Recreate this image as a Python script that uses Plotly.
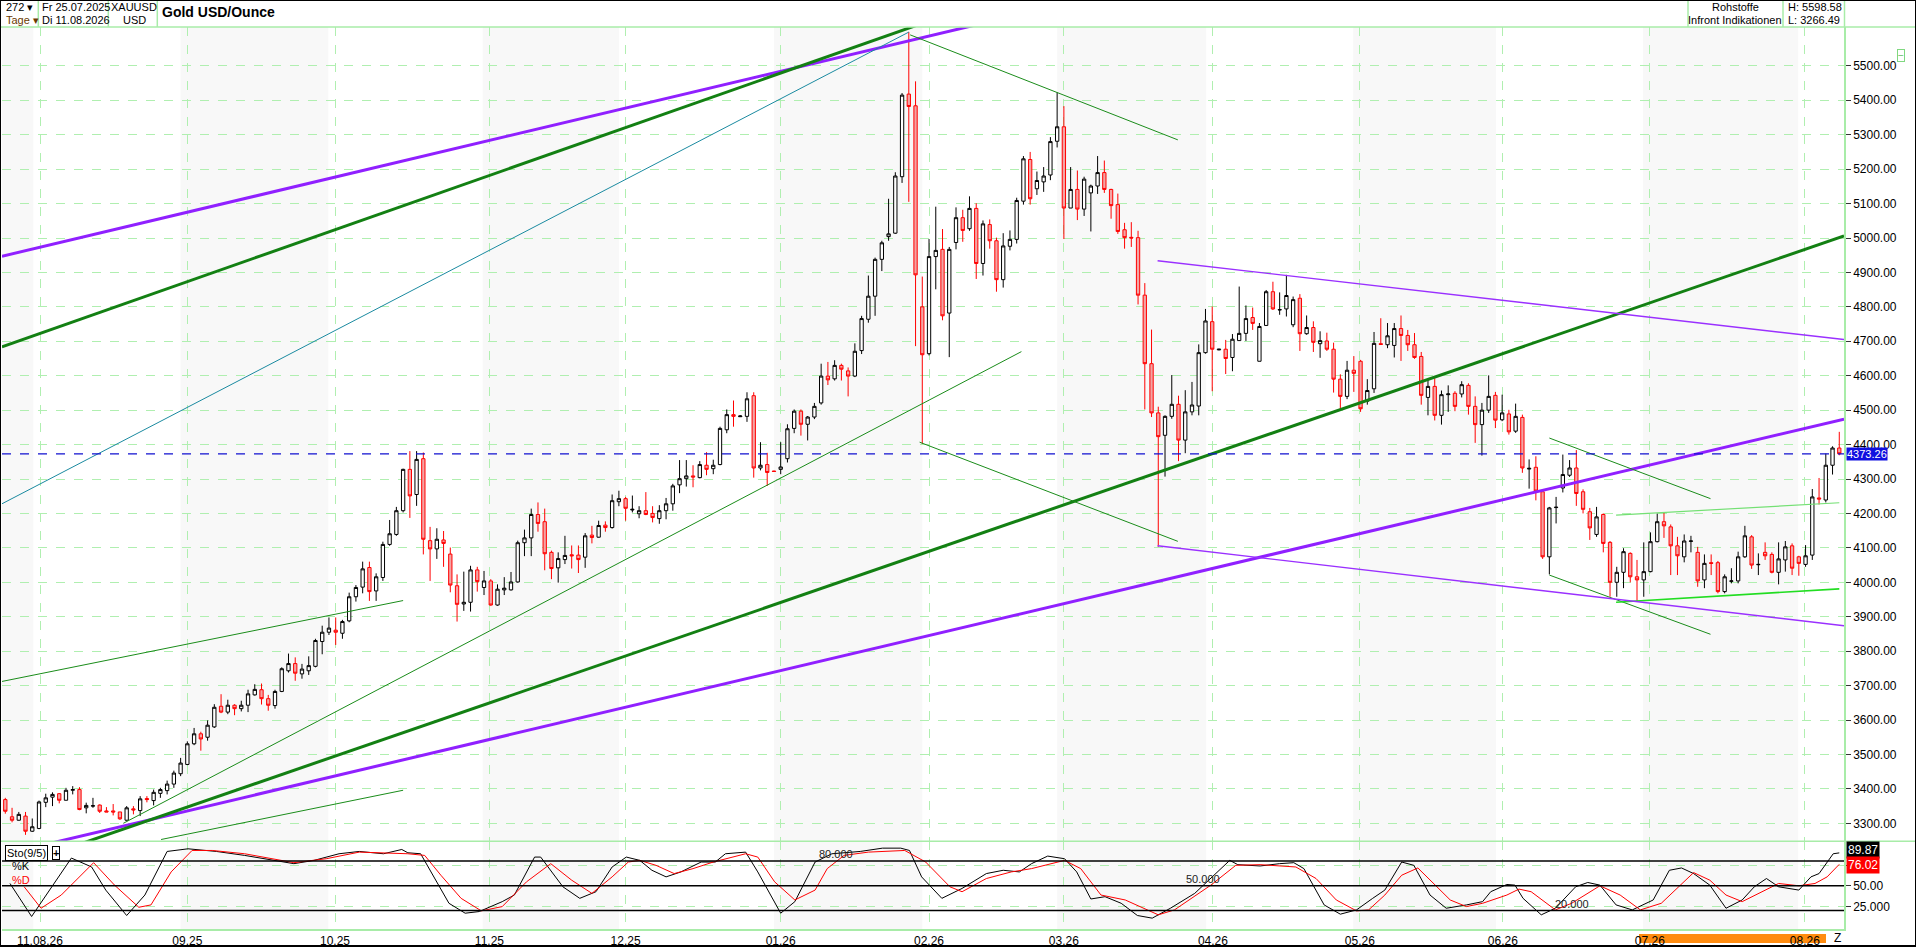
import pandas as pd
import plotly.graph_objects as go

# ---- data ----
trade_dates = pd.bdate_range("2025-07-25", "2026-08-11")

open_px = [3369, 3319, 3309, 3321, 3277, 3285, 3361, 3376, 3386, 3367, 3396, 3398, 3345, 3350, 3353, 3336, 3336, 3333, 3309, 3342,
           3337, 3372, 3366, 3387, 3395, 3414, 3444, 3471, 3531, 3560, 3550, 3580, 3640, 3623, 3643, 3633, 3643, 3673, 3688, 3662,
           3642, 3683, 3743, 3764, 3734, 3743, 3756, 3828, 3855, 3861, 3852, 3888, 3958, 3986, 4043, 3975, 4014, 4110, 4139, 4208,
           4328, 4255, 4359, 4121, 4097, 4123, 4082, 3990, 3937, 3942, 4036, 3985, 4004, 3934, 3978, 3978, 4001, 4115, 4129, 4197,
           4176, 4087, 4042, 4066, 4080, 4079, 4073, 4137, 4131, 4166, 4159, 4234, 4243, 4210, 4199, 4208, 4200, 4185, 4208, 4228,
           4283, 4301, 4309, 4304, 4340, 4330, 4342, 4443, 4487, 4481, 4482, 4542, 4332, 4342, 4323, 4328, 4359, 4447, 4497, 4459,
           4480, 4521, 4599, 4591, 4630, 4614, 4599, 4673, 4764, 4831, 4938, 5004, 5014, 5178, 5418, 5384, 4800, 4664, 4946, 4967,
           4782, 4987, 5059, 5027, 5086, 4926, 5039, 4992, 4879, 4976, 4996, 5107, 5228, 5143, 5163, 5183, 5281, 5323, 5087, 5141,
           5084, 5131, 5151, 5190, 5141, 5097, 5024, 5002, 5001, 4834, 4635, 4492, 4427, 4482, 4517, 4413, 4495, 4512, 4667, 4757,
           4675, 4677, 4653, 4702, 4723, 4769, 4642, 4746, 4844, 4791, 4794, 4748, 4825, 4722, 4740, 4693, 4701, 4677, 4590, 4540,
           4616, 4642, 4526, 4562, 4693, 4690, 4688, 4737, 4717, 4690, 4656, 4537, 4569, 4485, 4545, 4549, 4547, 4572, 4511, 4458,
           4500, 4543, 4472, 4489, 4439, 4479, 4329, 4334, 4263, 4074, 4217, 4274, 4311, 4332, 4263, 4205, 4139, 4197, 4116, 4000,
           4029, 4084, 4016, 4007, 4031, 4118, 4176, 4161, 4106, 4074, 4119, 4087, 4007, 4057, 4057, 3973, 4003, 4004, 4074, 4132,
           4051, 4087, 4081, 4029, 4065, 4106, 4074, 4052, 4079, 4245, 4239, 4340, 4390]
high_px = [3374, 3345, 3333, 3333, 3314, 3366, 3386, 3390, 3388, 3403, 3408, 3405, 3360, 3374, 3355, 3347, 3356, 3333, 3350, 3350,
           3379, 3379, 3398, 3403, 3424, 3453, 3490, 3538, 3577, 3566, 3599, 3646, 3675, 3659, 3646, 3656, 3688, 3704, 3706, 3673,
           3688, 3753, 3793, 3782, 3763, 3785, 3836, 3874, 3898, 3898, 3891, 3970, 3992, 4060, 4060, 4026, 4118, 4181, 4219, 4330,
           4381, 4381, 4377, 4161, 4157, 4149, 4101, 4023, 4031, 4048, 4045, 4033, 4009, 3994, 4015, 4030, 4121, 4153, 4214, 4232,
           4214, 4092, 4087, 4135, 4107, 4107, 4143, 4164, 4179, 4177, 4255, 4266, 4248, 4252, 4221, 4262, 4221, 4224, 4245, 4286,
           4355, 4355, 4340, 4352, 4378, 4356, 4452, 4502, 4528, 4485, 4552, 4552, 4407, 4376, 4324, 4407, 4459, 4502, 4502, 4483,
           4521, 4635, 4640, 4645, 4635, 4624, 4694, 4774, 4891, 4943, 4992, 5114, 5191, 5421, 5598.58, 5455, 4888, 4997, 5091, 5026,
           4974, 5089, 5082, 5121, 5101, 5051, 5054, 5001, 5014, 5022, 5117, 5238, 5250, 5193, 5206, 5293, 5423, 5383, 5206, 5196,
           5178, 5155, 5238, 5225, 5143, 5129, 5044, 5046, 5021, 4869, 4734, 4510, 4485, 4602, 4542, 4558, 4582, 4691, 4794, 4801,
           4678, 4704, 4721, 4859, 4804, 4798, 4753, 4849, 4873, 4842, 4893, 4830, 4837, 4775, 4758, 4729, 4725, 4696, 4604, 4643,
           4657, 4646, 4590, 4727, 4767, 4753, 4753, 4775, 4733, 4724, 4669, 4588, 4593, 4557, 4572, 4555, 4584, 4578, 4540, 4521,
           4601, 4553, 4545, 4501, 4519, 4487, 4357, 4366, 4263, 4219, 4248, 4371, 4355, 4384, 4270, 4216, 4219, 4200, 4120, 4045,
           4099, 4087, 4065, 4116, 4145, 4200, 4203, 4168, 4132, 4139, 4135, 4103, 4081, 4081, 4062, 4023, 4041, 4089, 4164, 4137,
           4084, 4116, 4087, 4116, 4120, 4113, 4077, 4108, 4271, 4303, 4374, 4395, 4437]
low_px = [3328, 3303, 3308, 3266.49, 3275, 3283, 3347, 3350, 3358, 3367, 3384, 3338, 3329, 3345, 3330, 3333, 3323, 3310, 3308, 3326,
          3321, 3361, 3352, 3374, 3384, 3403, 3437, 3469, 3527, 3511, 3540, 3577, 3620, 3617, 3614, 3625, 3623, 3671, 3645, 3627,
          3633, 3681, 3738, 3714, 3720, 3731, 3753, 3791, 3847, 3818, 3836, 3884, 3944, 3968, 3946, 3946, 4004, 4106, 4135, 4203,
          4187, 4222, 4081, 4004, 4068, 4045, 3971, 3886, 3917, 3915, 3973, 3963, 3932, 3932, 3963, 3976, 3999, 4076, 4076, 4147,
          4035, 4009, 3999, 4053, 4040, 4027, 4042, 4113, 4130, 4147, 4156, 4221, 4179, 4203, 4186, 4195, 4174, 4170, 4183, 4208,
          4259, 4278, 4276, 4302, 4311, 4314, 4340, 4433, 4452, 4480, 4466, 4304, 4325, 4280, 4321, 4314, 4348, 4433, 4426, 4412,
          4474, 4516, 4573, 4586, 4586, 4540, 4596, 4663, 4754, 4774, 4904, 4992, 5012, 5160, 5105, 4686, 4402, 4659, 4851, 4761,
          4654, 4967, 4989, 5021, 4881, 4891, 4969, 4844, 4856, 4964, 4984, 5097, 5097, 5125, 5134, 5168, 5263, 4997, 5087, 5052,
          5064, 5019, 5128, 5131, 5056, 5012, 4969, 4974, 4807, 4502, 4480, 4103, 4307, 4475, 4352, 4375, 4485, 4485, 4664, 4555,
          4674, 4605, 4613, 4701, 4701, 4733, 4642, 4746, 4791, 4777, 4772, 4741, 4672, 4719, 4669, 4652, 4672, 4551, 4503, 4532,
          4553, 4495, 4516, 4550, 4690, 4680, 4653, 4643, 4672, 4649, 4516, 4485, 4470, 4458, 4495, 4497, 4537, 4487, 4405, 4368,
          4492, 4448, 4468, 4429, 4434, 4318, 4272, 4238, 4068, 4023, 4171, 4261, 4306, 4222, 4200, 4123, 4132, 4087, 3958, 3958,
          3983, 4000, 3946, 3958, 4029, 4116, 4129, 4021, 4021, 4058, 4087, 3987, 3983, 4021, 3968, 3968, 3997, 3997, 4071, 4039,
          4021, 4065, 4026, 3994, 4031, 4021, 4019, 4045, 4065, 4226, 4232, 4313, 4369]
close_px = [3335, 3309, 3326, 3277, 3290, 3362, 3374, 3384, 3367, 3396, 3398, 3340, 3352, 3351, 3335, 3333, 3333, 3313, 3345, 3339,
            3371, 3369, 3390, 3398, 3414, 3446, 3475, 3531, 3560, 3545, 3585, 3637, 3623, 3643, 3633, 3643, 3676, 3689, 3662, 3643,
            3683, 3749, 3764, 3736, 3748, 3758, 3831, 3855, 3867, 3855, 3886, 3958, 3985, 4039, 3973, 4016, 4110, 4141, 4208, 4328,
            4251, 4357, 4125, 4097, 4125, 4113, 3992, 3936, 3942, 4036, 4002, 4004, 3934, 3980, 3983, 4001, 4115, 4129, 4197, 4171,
            4083, 4040, 4069, 4078, 4077, 4066, 4135, 4130, 4165, 4159, 4237, 4243, 4215, 4212, 4208, 4197, 4188, 4208, 4228, 4280,
            4301, 4309, 4306, 4342, 4328, 4340, 4447, 4487, 4482, 4483, 4533, 4332, 4340, 4319, 4322, 4335, 4446, 4497, 4459, 4480,
            4511, 4599, 4588, 4630, 4619, 4599, 4671, 4766, 4831, 4938, 4986, 5012, 5180, 5415, 5382, 4893, 4661, 4946, 4964, 4774,
            4967, 5059, 5022, 5086, 4926, 5041, 4992, 4879, 4977, 4996, 5109, 5230, 5114, 5167, 5180, 5280, 5323, 5087, 5141, 5084,
            5171, 5151, 5190, 5141, 5094, 5019, 5001, 5000, 4834, 4635, 4492, 4423, 4482, 4517, 4413, 4495, 4515, 4667, 4759, 4677,
            4677, 4650, 4706, 4723, 4766, 4752, 4743, 4844, 4794, 4792, 4833, 4821, 4722, 4740, 4697, 4702, 4677, 4590, 4540, 4616,
            4607, 4504, 4557, 4694, 4691, 4716, 4737, 4717, 4690, 4653, 4543, 4569, 4485, 4545, 4547, 4511, 4574, 4511, 4458, 4500,
            4540, 4471, 4492, 4437, 4482, 4332, 4331, 4265, 4074, 4216, 4218, 4313, 4332, 4258, 4212, 4158, 4190, 4113, 4000, 4029,
            4089, 4016, 4007, 4031, 4118, 4176, 4164, 4106, 4077, 4120, 4120, 4004, 4055, 4055, 3973, 4016, 4004, 4074, 4135, 4050,
            4052, 4077, 4029, 4068, 4103, 4041, 4055, 4077, 4248, 4242, 4340, 4390, 4373.26]

# month grid positions (candle index) and their labels
month_pos = [5.15, 27.0, 48.9, 71.8, 92.0, 115.0, 137.0, 157.0, 179.1, 200.9, 222.1, 243.9, 266.9]
month_labels = ["11.08.26", "09.25", "10.25", "11.25", "12.25", "01.26", "02.26", "03.26",
                "04.26", "05.26", "06.26", "07.26", "08.26"]

# Sto(9/5)
stoch_k_x = [0.7, 3.9, 9.8, 12.8, 14.9, 18.0, 20.7, 24.0, 27.1, 31.3, 35.5, 42.8, 45.8, 49.5, 52.5, 56.1, 58.8, 59.7,
             61.6, 63.4, 65.8, 68.2, 70.3, 73.7, 75.5, 78.5, 79.4, 82.7, 85.2, 87.6, 90.0, 92.1, 94.1, 95.9, 98.0, 100.2,
             103.2, 105.3, 106.8, 109.8, 111.6, 115.0, 117.1, 120.1, 122.6, 126.8, 130.1, 132.8, 134.1, 135.9, 138.9,
             141.9, 145.5, 148.0, 150.4, 152.2, 154.6, 157.1, 158.9, 161.0, 163.1, 165.5, 167.9, 170.1, 172.8, 176.4,
             178.8, 181.6, 182.8, 186.1, 189.0, 191.1, 192.6, 195.6, 198.0, 200.4, 202.8, 204.6, 207.1, 208.9, 211.3,
             213.7, 216.7, 219.1, 220.3, 222.7, 223.9, 225.1, 227.8, 229.9, 232.9, 234.7, 236.5, 238.9, 241.3, 244.4,
             246.8, 248.6, 250.4, 252.8, 255.2, 257.6, 259.4, 261.2, 263.0, 266.0, 267.8, 269.0, 271.1, 272.0]
stoch_k = [52.8, 12.8, 83.6, 72.8, 44.8, 14.0, 38.8, 91.6, 94.8, 91.6, 86.8, 76.8, 80.8, 88.8, 91.6, 88.8, 94.0, 90.0,
           88.8, 62.8, 28.8, 16.8, 18.8, 30.8, 38.8, 84.8, 84.8, 48.8, 34.8, 42.8, 72.8, 84.8, 80.8, 68.8, 60.8, 66.8,
           78.8, 78.8, 88.8, 90.8, 66.8, 16.8, 30.8, 78.8, 88.8, 91.6, 95.6, 95.6, 92.8, 60.8, 34.8,
           46.8, 64.8, 68.8, 66.8, 76.8, 86.0, 82.8, 66.8, 34.0, 36.8, 28.8, 14.0, 10.8, 22.8, 40.8,
           58.8, 80.8, 75.6, 74.0, 76.8, 78.0, 70.8, 26.8, 15.6, 20.8, 34.8, 44.8, 78.8, 74.8, 38.8,
           22.8, 26.8, 30.8, 42.8, 51.6, 50.8, 34.8, 14.8, 22.8, 48.8, 54.0, 50.8, 26.8, 20.8, 32.8,
           68.8, 71.6, 64.8, 50.8, 22.8, 32.8, 48.8, 58.8, 48.8, 44.8, 60.8, 64.8, 88.8, 89.87]
stoch_d_x = [2.8, 5.3, 8.3, 13.1, 16.2, 19.8, 21.6, 24.6, 27.7, 30.7, 35.5, 42.8, 47.6, 52.5, 59.7, 62.2, 64.6, 67.6,
             70.6, 73.7, 77.3, 80.9, 84.0, 87.0, 90.0, 92.4, 94.1, 96.5, 99.2, 102.0, 105.0, 109.8, 111.6, 114.1, 117.1,
             120.1, 121.9, 124.4, 128.0, 133.4, 136.5, 140.1, 141.9, 145.5, 149.2, 152.2, 157.1, 159.5, 162.5, 166.1,
             171.0, 173.4, 178.8, 182.5, 186.1, 189.0, 191.4, 194.4, 197.4, 200.4, 202.2, 204.6, 207.1, 209.5, 211.9,
             214.3, 216.7, 219.1, 222.7, 224.5, 226.3, 229.9, 232.3, 236.5, 239.5, 242.5, 245.6, 250.4, 252.8, 255.2,
             257.6, 260.0, 263.0, 266.0, 268.4, 270.2, 272.0]
stoch_d = [48.8, 22.8, 38.8, 78.0, 50.8, 24.0, 26.8, 66.8, 92.8, 92.8, 88.8, 78.0, 82.8, 90.8, 88.8, 86.8, 62.8, 34.8,
           19.6, 24.8, 54.8, 76.8, 56.8, 40.8, 60.8, 78.8, 80.8, 74.8, 64.8, 70.8, 78.8, 88.8, 84.8, 54.8, 32.8,
           44.8, 70.8, 86.8, 90.8, 92.8, 78.8, 48.8, 42.8, 58.8, 66.8, 70.8, 80.8, 70.8, 38.8, 32.8,
           14.8, 20.8, 50.8, 74.8, 75.6, 74.0, 72.8, 58.8, 32.8, 19.6, 20.8, 38.8, 62.8, 71.6, 52.8,
           32.8, 24.8, 28.8, 38.8, 46.0, 42.8, 20.8, 28.8, 50.0, 38.8, 20.8, 28.8, 66.0, 56.8, 38.8,
           30.8, 40.8, 52.8, 50.0, 52.8, 60.8, 76.02]
stoch_levels = [20, 50, 80]

# drawn trend lines: (candle index list, price list)
trend_lines = {
    "purple_top": ([-0.5, 150.0], [4947, 5647]),
    "purple_low": ([0.0, 272.7], [3211, 4474]),
    "green_top": ([-0.5, 140.0], [4684, 5651]),
    "green_low": ([0.0, 272.7], [3165, 5006]),
    "teal": ([-0.5, 134.0], [4228, 5598]),
    "g_a": ([-0.5, 59.0], [3712, 3947]),
    "g_b": ([23.1, 59.0], [3253, 3396]),
    "g_c": ([17.5, 150.7], [3300, 4670]),
    "g_d": ([134.2, 173.9], [5590, 5285]),
    "g_e": ([135.6, 173.9], [4407, 4119]),
    "g_f": ([229.0, 252.9], [4419, 4243]),
    "g_g": ([229.0, 252.9], [4021, 3849]),
    "lg_h": ([238.9, 272.0], [4195, 4231]),
    "lime_i": ([238.9, 272.0], [3942, 3981]),
    "p_a": ([170.9, 272.7], [4934, 4705]),
    "p_b": ([170.9, 272.7], [4106, 3874]),
}
trend_style = {
    "purple_top": ("#9020ff", 3), "purple_low": ("#9020ff", 3),
    "green_top": ("#138013", 3), "green_low": ("#138013", 3),
    "teal": ("#1a8aa0", 1), "g_a": ("#1a8c1a", 1), "g_b": ("#1a8c1a", 1), "g_c": ("#1a8c1a", 1),
    "g_d": ("#1a8c1a", 1), "g_e": ("#1a8c1a", 1), "g_f": ("#1a8c1a", 1), "g_g": ("#1a8c1a", 1),
    "lg_h": ("#74e074", 1.2), "lime_i": ("#22dd22", 1.6),
    "p_a": ("#9a30ff", 1.4), "p_b": ("#9a30ff", 1.4),
}

# ---- layout geometry (pixels of a 1916x948 page) ----
W, H = 1916, 948
FONT = "Liberation Sans, Arial, sans-serif"
GRID = "#b0efb0"
SEP = "#a8eca8"


def px(x):
    return x / W


def py(y):
    return 1 - y / H


xpos = list(range(len(close_px)))
xr = [-0.49, 272.7]

fig = go.Figure()

fig.add_trace(go.Candlestick(
    x=xpos, open=open_px, high=high_px, low=low_px, close=close_px,
    increasing=dict(line=dict(color="black", width=1), fillcolor="white"),
    decreasing=dict(line=dict(color="#ff0000", width=1), fillcolor="#f4a4a4"),
    customdata=[d.strftime("%d.%m.%Y") for d in trade_dates],
    xaxis="x", yaxis="y", showlegend=False,
))

for name, (tx, ty) in trend_lines.items():
    col, wid = trend_style[name]
    fig.add_trace(go.Scatter(x=tx, y=ty, mode="lines", line=dict(color=col, width=wid),
                             xaxis="x", yaxis="y", showlegend=False, hoverinfo="skip"))

fig.add_trace(go.Scatter(x=stoch_k_x, y=stoch_k, mode="lines", line=dict(color="black", width=1),
                         xaxis="x", yaxis="y2", showlegend=False))
fig.add_trace(go.Scatter(x=stoch_d_x, y=stoch_d, mode="lines", line=dict(color="#ff0000", width=1),
                         xaxis="x", yaxis="y2", showlegend=False))

shapes = []
# alternating month shading
band_edges = [xr[0] + 0.0] + [p - 1.0 for p in month_pos] + [xr[1]]
for i in range(len(band_edges) - 1):
    if i % 2 == 0:
        shapes.append(dict(type="rect", xref="x", yref="paper", x0=band_edges[i], x1=band_edges[i + 1],
                           y0=py(931), y1=py(27), fillcolor="#f8f8f8", line=dict(width=0), layer="below"))
# stochastic level lines
for lv in stoch_levels:
    shapes.append(dict(type="line", xref="paper", yref="y2", x0=px(2), x1=px(1844), y0=lv, y1=lv,
                       line=dict(color="black", width=1.5)))
# last price dashed line
shapes.append(dict(type="line", xref="paper", yref="y", x0=px(2), x1=px(1844), y0=close_px[-1], y1=close_px[-1],
                   line=dict(color="#1010d0", width=1.2, dash="dash")))
# separators
for yy in (27, 843):
    shapes.append(dict(type="line", xref="paper", yref="paper", x0=0, x1=px(1916), y0=py(yy), y1=py(yy),
                       line=dict(color=SEP, width=1.5)))
for xx in (38.3, 108.3, 157.3, 1688, 1783, 1844.5):
    shapes.append(dict(type="line", xref="paper", yref="paper", x0=px(xx), x1=px(xx), y0=py(0), y1=py(27),
                       line=dict(color=SEP, width=1.5)))
# orange period bar under the time axis
shapes.append(dict(type="rect", xref="paper", yref="paper", x0=px(1639), x1=px(1826), y0=py(945), y1=py(936),
                   fillcolor="#ff8c10", line=dict(width=0), layer="below"))
# outer frame
shapes.append(dict(type="rect", xref="paper", yref="paper", x0=0, x1=1, y0=0, y1=1,
                   line=dict(color="black", width=2)))

ann = []


def note(text, x, y, xanchor="left", size=12, color="black", bold=False, **kw):
    t = "<b>%s</b>" % text if bold else text
    ann.append(dict(text=t, x=px(x), y=py(y), xref="paper", yref="paper", xanchor=xanchor, yanchor="middle",
                    showarrow=False, font=dict(family=FONT, size=size, color=color), **kw))


# header
note("272 \u25be", 4, 7, size=11)
note("Tage \u25be", 4, 20, size=11, color="#6b3a00")
note("Fr 25.07.2025", 40, 7, size=11)
note("Di 11.08.2026", 40, 20, size=11)
note("XAUUSD", 134, 7, xanchor="center", size=11)
note("USD", 134, 20, xanchor="center", size=11)
note("Gold USD/Ounce", 160, 12, size=14, bold=True)
note("Rohstoffe", 1735, 7, xanchor="center", size=11)
note("Infront Indikationen", 1735, 20, xanchor="center", size=11)
note("H: 5598.58", 1786, 7, size=11)
note("L: 3266.49", 1786, 20, size=11)
note("\u2212", 1901, 56, xanchor="center", size=10, color="#60c060", bordercolor="#80d880", borderwidth=1, borderpad=0)

# stochastic panel labels
note("Sto(9/5)", 5, 855, bordercolor="black", borderwidth=1, borderpad=1, bgcolor="white", size=11)
note("+", 56, 855, xanchor="center", bold=True, bordercolor="black", borderwidth=1, borderpad=0,
     bgcolor="white", size=11)
note("%K", 10, 868, size=11)
note("%D", 10, 882, size=11, color="#ff0000")
note("80.000", 836, 856, xanchor="center", size=11, color="#222222")
note("50.000", 1203, 881, xanchor="center", size=11, color="#222222")
note("20.000", 1572, 906, xanchor="center", size=11, color="#222222")
note("%.2f" % stoch_k[-1], 1846, 852, size=12, color="white", bgcolor="black", borderpad=1)
note("%.2f" % stoch_d[-1], 1846, 867, size=12, color="white", bgcolor="#ff0000", borderpad=1)
note("Z", 1837, 940, xanchor="center", size=12)

# last price tag
ann.append(dict(text="%.2f" % close_px[-1], x=px(1846), y=close_px[-1], xref="paper", yref="y",
                xanchor="left", yanchor="middle", showarrow=False, bgcolor="#1010e0", borderpad=0,
                font=dict(family=FONT, size=11, color="white")))

price_ticks = list(range(3300, 5600, 100))

fig.update_layout(
    width=W, height=H, margin=dict(l=0, r=0, t=0, b=0),
    paper_bgcolor="white", plot_bgcolor="white",
    showlegend=False, hovermode=False,
    font=dict(family=FONT, size=12, color="black"),
    xaxis=dict(domain=[px(2), px(1844)], range=xr, anchor="y2",
               tickmode="array", tickvals=month_pos, ticktext=month_labels,
               showgrid=True, gridcolor=GRID, griddash="dash", gridwidth=1,
               showline=True, linecolor=SEP, linewidth=1.5, ticks="",
               tickfont=dict(size=12, family=FONT, color="black"),
               rangeslider=dict(visible=False), zeroline=False, fixedrange=True),
    yaxis=dict(domain=[py(843), py(27)], range=[3248, 5613], anchor="x", side="right",
               tickmode="array", tickvals=price_ticks, tickformat=".2f",
               showgrid=True, gridcolor=GRID, griddash="dash", gridwidth=1,
               showline=True, linecolor=SEP, linewidth=1.5,
               ticks="outside", ticklen=5, tickcolor="#333333",
               tickfont=dict(size=12, family=FONT, color="black"), zeroline=False),
    yaxis2=dict(domain=[py(931), py(843)], range=[-2.4, 104], anchor="x", side="right",
                tickmode="array", tickvals=[25, 50, 75], ticktext=["25.000", "50.00", ""],
                showgrid=True, gridcolor=GRID, griddash="dash", gridwidth=1,
                showline=True, linecolor=SEP, linewidth=1.5,
                ticks="outside", ticklen=5, tickcolor="#333333",
                tickfont=dict(size=12, family=FONT, color="black"), zeroline=False),
    shapes=shapes, annotations=ann,
)

# the page's default body margin would push the 1916x948 figure off the window
fig.write_html("out.html", config={"displayModeBar": False},
               post_script="document.body.style.margin='0px';")
